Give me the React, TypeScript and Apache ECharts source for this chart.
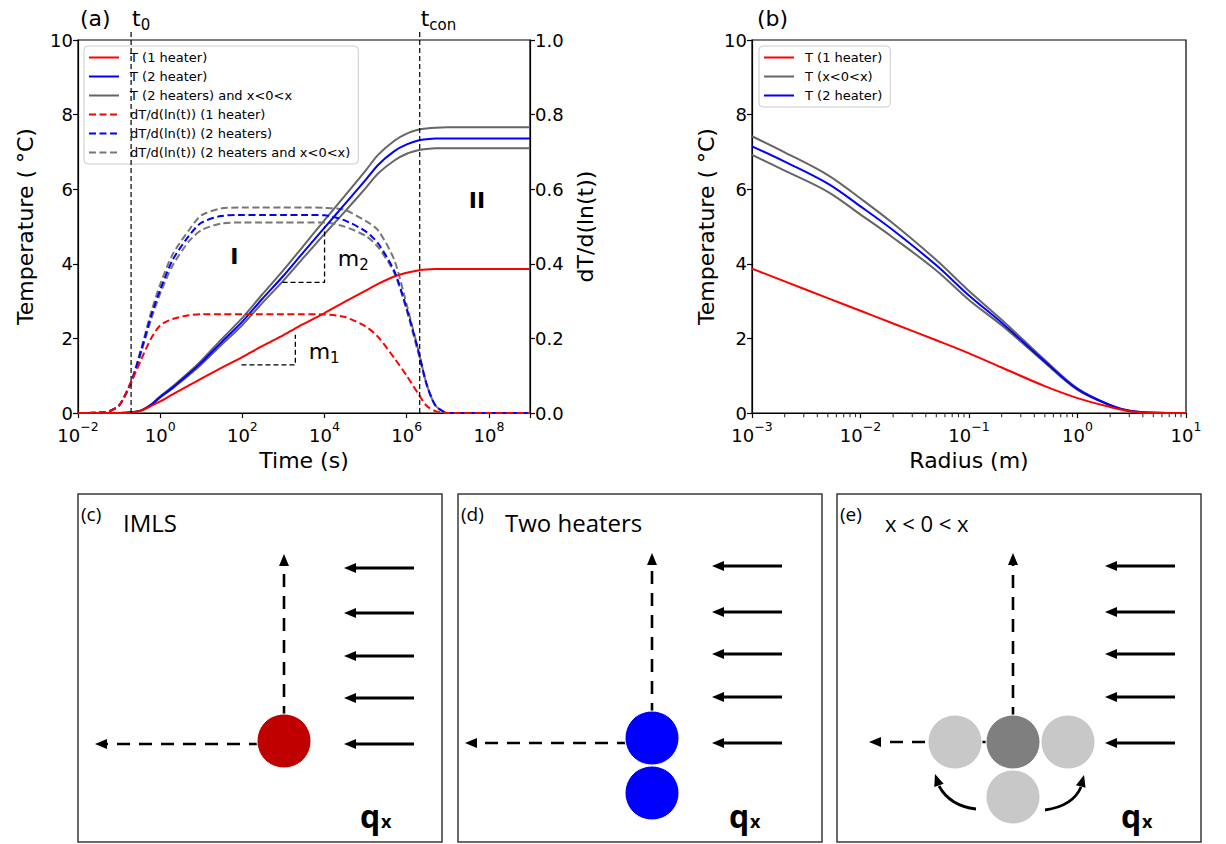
import React, { useEffect, useRef } from 'react';
import * as echarts from 'echarts';

const FONT = 'DejaVu Sans';
const BOX_FONT = 'Open Sans';

// ---------- Panel (a): temperature and derivative vs time ----------
const timeSeconds = [0.01, 0.05, 0.1, 0.2, 0.35, 0.6, 1, 2, 5, 10, 30, 100, 300, 1e3, 3e3, 1e4, 3e4, 1e5, 2e5, 5e5, 1e6, 2e6, 3e6, 5e6, 1e7, 1e8, 1e9];
const tempOneHeater = [0, 0, 0, 0.01, 0.07, 0.19, 0.31, 0.5, 0.74, 0.92, 1.2, 1.5, 1.79, 2.09, 2.38, 2.68, 2.97, 3.28, 3.46, 3.66, 3.76, 3.83, 3.85, 3.86, 3.86, 3.86, 3.86];
const tempTwoHeaters = [0, 0, 0, 0.02, 0.07, 0.22, 0.43, 0.68, 1.05, 1.35, 1.88, 2.45, 3.05, 3.68, 4.3, 4.97, 5.58, 6.25, 6.65, 7.02, 7.2, 7.31, 7.34, 7.36, 7.36, 7.36, 7.36];
const tempAdvUpper = [0, 0, 0, 0.02, 0.07, 0.23, 0.45, 0.71, 1.09, 1.4, 1.96, 2.55, 3.17, 3.83, 4.47, 5.17, 5.8, 6.5, 6.92, 7.3, 7.49, 7.6, 7.63, 7.65, 7.66, 7.66, 7.66];
const tempAdvLower = [0, 0, 0, 0.02, 0.07, 0.21, 0.41, 0.66, 1.01, 1.3, 1.81, 2.36, 2.94, 3.55, 4.15, 4.8, 5.38, 6.03, 6.42, 6.77, 6.95, 7.05, 7.08, 7.1, 7.1, 7.1, 7.1];
const derivOneHeater = [0, 0.003, 0.02, 0.085, 0.145, 0.2, 0.235, 0.252, 0.262, 0.265, 0.265, 0.265, 0.265, 0.265, 0.265, 0.264, 0.258, 0.232, 0.204, 0.147, 0.1, 0.048, 0.02, 0.005, 0, 0, 0];
const derivTwoHeaters = [0, 0.003, 0.02, 0.085, 0.17, 0.26, 0.33, 0.41, 0.475, 0.51, 0.528, 0.531, 0.531, 0.531, 0.531, 0.53, 0.517, 0.487, 0.455, 0.38, 0.28, 0.16, 0.08, 0.02, 0, 0, 0];
const derivAdvUpper = [0, 0.003, 0.02, 0.088, 0.175, 0.27, 0.345, 0.425, 0.49, 0.53, 0.548, 0.551, 0.551, 0.551, 0.551, 0.55, 0.545, 0.515, 0.49, 0.41, 0.29, 0.16, 0.08, 0.02, 0, 0, 0];
const derivAdvLower = [0, 0.003, 0.02, 0.082, 0.165, 0.25, 0.32, 0.395, 0.46, 0.49, 0.508, 0.511, 0.511, 0.511, 0.511, 0.511, 0.5, 0.475, 0.445, 0.375, 0.275, 0.152, 0.078, 0.02, 0, 0, 0];

// reference markers in panel (a)
const t0Time = [0.196, 0.196];
const tconTime = [2.07e6, 2.07e6];
const markerSpan = [0, 10.27];
const slopeM2Time = [950, 1e4, 1e4];
const slopeM2Temp = [3.5, 3.5, 5.0];
const slopeM1Time = [95, 1950, 1950];
const slopeM1Temp = [1.29, 1.29, 2.1];

// ---------- Panel (b): temperature vs radius ----------
const radiusM = [0.001, 0.002, 0.005, 0.01, 0.02, 0.05, 0.1, 0.2, 0.5, 1, 2, 3, 5, 10];
const radialOneHeater = [3.87, 3.53, 3.08, 2.74, 2.4, 1.95, 1.6, 1.22, 0.72, 0.4, 0.16, 0.05, 0.005, 0];
const radialTwoHeaters = [7.15, 6.74, 6.15, 5.54, 4.9, 3.96, 3.15, 2.42, 1.38, 0.64, 0.21, 0.06, 0.006, 0];
const radialAdvUpper = [7.42, 6.99, 6.38, 5.75, 5.08, 4.1, 3.27, 2.5, 1.42, 0.66, 0.21, 0.06, 0.006, 0];
const radialAdvLower = [6.92, 6.5, 5.93, 5.32, 4.7, 3.82, 3.03, 2.35, 1.35, 0.62, 0.21, 0.06, 0.006, 0];
const minorTickRadius = [0.002, 0.003, 0.004, 0.005, 0.006, 0.007, 0.008, 0.009, 0.02, 0.03, 0.04, 0.05, 0.06, 0.07, 0.08, 0.09, 0.2, 0.3, 0.4, 0.5, 0.6, 0.7, 0.8, 0.9, 2, 3, 4, 5, 6, 7, 8, 9];

const legendA = ['T (1 heater)', 'T (2 heater)', 'T (2 heaters) and x<0<x', 'dT/d(ln(t)) (1 heater)', 'dT/d(ln(t)) (2 heaters)', 'dT/d(ln(t)) (2 heaters and x<0<x)'];
const legendB = ['T (1 heater)', 'T (x<0<x)', 'T (2 heater)'];

const RED = '#ff0000';
const BLUE = '#0000ff';
const GRAY = '#656565';
const GRAY_D = '#777777';

export default function App() {
  const ref = useRef<HTMLDivElement>(null);

  useEffect(() => {
    const el = ref.current;
    if (!el) return;
    const chart = echarts.init(el, null, { renderer: 'svg' });

    const lt = (xs: number[], ys: number[]) => xs.map((t, i) => [Math.log10(t), ys[i]]);
    const lr = (xs: number[], ys: number[]) => xs.map((r, i) => [r, ys[i]]);

    const mk = (name: string, data: number[][], color: string, o: any = {}) => ({
      type: 'line',
      name,
      data,
      symbol: 'none',
      showSymbol: false,
      smooth: o.smooth === false ? false : o.smooth ?? 0.25,
      clip: o.clip === false ? false : true,
      lineStyle: { color, width: o.width ?? 2, type: o.dash ?? 'solid' },
      itemStyle: { color },
      xAxisIndex: o.x ?? 0,
      yAxisIndex: o.y ?? 0,
      z: o.z ?? 2,
      silent: true,
      emphasis: { disabled: true },
    });

    const supRich = {
      b: { fontSize: 18, fontFamily: FONT, color: '#000', lineHeight: 24, verticalAlign: 'bottom' },
      s: { fontSize: 12.5, fontFamily: FONT, color: '#000', lineHeight: 13, verticalAlign: 'top' },
    };
    const expLabel = (e: number) => `{b|10}{s|${e < 0 ? '\u2212' + -e : e}}`;

    const axisCommon = {
      axisLine: { show: true, onZero: false, lineStyle: { color: '#000', width: 1.2 } },
      axisTick: { show: true, inside: false, length: 5, lineStyle: { color: '#000', width: 1.2 } },
      splitLine: { show: false },
      nameTextStyle: { fontSize: 22, fontFamily: FONT, color: '#000' },
    };
    const labelCommon = { color: '#000', fontSize: 18, fontFamily: FONT };

    const dash = [7, 3.5];
    const blackDash = [5, 3];

    const legendCommon = {
      orient: 'vertical',
      itemWidth: 30,
      itemHeight: 14,
      itemGap: 6,
      padding: [5, 8, 5, 4],
      backgroundColor: 'rgba(255,255,255,0.85)',
      borderColor: '#cccccc',
      borderWidth: 1,
      borderRadius: 4,
      selectedMode: false,
      itemStyle: { opacity: 0 },
      formatter: (name: string) => `{t|${name}}`,
      textStyle: {
        fontSize: 13,
        fontFamily: FONT,
        color: '#000',
        rich: { t: { fontSize: 13, fontFamily: FONT, color: '#000', padding: [0, 0, 0, 6] } },
      },
    };

    const option: any = {
      animation: false,
      textStyle: { fontFamily: FONT },
      grid: [
        { left: 78, top: 40, width: 452, height: 373, show: true, borderColor: '#000', borderWidth: 1.2, backgroundColor: 'transparent' },
        { left: 752, top: 40, width: 434, height: 373, show: true, borderColor: '#000', borderWidth: 1.2, backgroundColor: 'transparent' },
      ],
      xAxis: [
        {
          ...axisCommon,
          gridIndex: 0,
          type: 'value',
          min: -2,
          max: 9,
          interval: 2,
          axisLabel: {
            ...labelCommon,
            margin: 7,
            formatter: (v: number) => {
              const e = Math.round(v);
              return e % 2 === 0 ? expLabel(e) : '';
            },
            rich: supRich,
          },
          name: 'Time (s)',
          nameLocation: 'middle',
          nameGap: 36,
        },
        {
          ...axisCommon,
          gridIndex: 1,
          type: 'log',
          logBase: 10,
          min: 0.001,
          max: 10,
          axisLabel: {
            ...labelCommon,
            margin: 7,
            formatter: (v: number) => expLabel(Math.round(Math.log10(v))),
            rich: supRich,
          },
          name: 'Radius (m)',
          nameLocation: 'middle',
          nameGap: 36,
        },
      ],
      yAxis: [
        {
          ...axisCommon,
          gridIndex: 0,
          type: 'value',
          min: 0,
          max: 10,
          interval: 2,
          axisLabel: { ...labelCommon, margin: 5 },
          name: 'Temperature ( \u00b0C)',
          nameLocation: 'middle',
          nameRotate: 90,
          nameGap: 42,
        },
        {
          ...axisCommon,
          gridIndex: 0,
          type: 'value',
          position: 'right',
          min: 0,
          max: 1,
          interval: 0.2,
          axisLabel: { ...labelCommon, margin: 5, formatter: (v: number) => v.toFixed(1) },
          name: 'dT/d(ln(t))',
          nameLocation: 'middle',
          nameRotate: 90,
          nameGap: 44,
        },
        {
          ...axisCommon,
          gridIndex: 1,
          type: 'value',
          min: 0,
          max: 10,
          interval: 2,
          axisLabel: { ...labelCommon, margin: 5 },
          name: 'Temperature ( \u00b0C)',
          nameLocation: 'middle',
          nameRotate: 90,
          nameGap: 35,
        },
      ],
      legend: [
        { ...legendCommon, left: 84, top: 46, data: legendA },
        { ...legendCommon, left: 759, top: 46, data: legendB },
      ],
      series: [
        // panel (a) temperatures
        mk('T (2 heaters) and x<0<x', lt(timeSeconds, tempAdvUpper), GRAY),
        mk('T (2 heaters) and x<0<x, lower', lt(timeSeconds, tempAdvLower), GRAY),
        mk('T (2 heater)', lt(timeSeconds, tempTwoHeaters), BLUE, { z: 3 }),
        mk('T (1 heater)', lt(timeSeconds, tempOneHeater), RED, { z: 3 }),
        // panel (a) derivatives
        mk('dT/d(ln(t)) (2 heaters and x<0<x)', lt(timeSeconds, derivAdvUpper), GRAY_D, { y: 1, dash }),
        mk('dT/d(ln(t)) (2 heaters and x<0<x), lower', lt(timeSeconds, derivAdvLower), GRAY_D, { y: 1, dash }),
        mk('dT/d(ln(t)) (2 heaters)', lt(timeSeconds, derivTwoHeaters), BLUE, { y: 1, dash, z: 3 }),
        mk('dT/d(ln(t)) (1 heater)', lt(timeSeconds, derivOneHeater), RED, { y: 1, dash, z: 3 }),
        // reference lines
        mk('t0 marker', lt(t0Time, markerSpan), '#000', { smooth: false, clip: false, width: 1.2, dash: blackDash, z: 4 }),
        mk('tcon marker', lt(tconTime, markerSpan), '#000', { smooth: false, clip: false, width: 1.2, dash: blackDash, z: 4 }),
        mk('m2 slope', lt(slopeM2Time, slopeM2Temp), '#000', { smooth: false, width: 1.3, dash: blackDash, z: 4 }),
        mk('m1 slope', lt(slopeM1Time, slopeM1Temp), '#000', { smooth: false, width: 1.3, dash: blackDash, z: 4 }),
        // panel (b)
        mk('T (x<0<x)', lr(radiusM, radialAdvUpper), GRAY, { x: 1, y: 2, smooth: 0.35 }),
        mk('T (x<0<x), lower', lr(radiusM, radialAdvLower), GRAY, { x: 1, y: 2, smooth: 0.35 }),
        mk('T (2 heater)', lr(radiusM, radialTwoHeaters), BLUE, { x: 1, y: 2, z: 3, smooth: 0.35 }),
        mk('T (1 heater)', lr(radiusM, radialOneHeater), RED, { x: 1, y: 2, z: 3, smooth: 0.35 }),
        {
          type: 'scatter',
          name: 'minor ticks',
          xAxisIndex: 1,
          yAxisIndex: 2,
          data: minorTickRadius.map((r) => [r, 0]),
          symbol: 'rect',
          symbolSize: [1.1, 3.5],
          symbolOffset: [0, 2.4],
          itemStyle: { color: '#000' },
          clip: false,
          silent: true,
          z: 10,
        },
      ],
    };

    chart.setOption(option);

    const px = (t: number, v: number) =>
      chart.convertToPixel({ xAxisIndex: 0, yAxisIndex: 0 } as any, [Math.log10(t), v]) as number[];

    const g: any[] = [];
    const text = (x: number, y: number, str: string, size: number, o: any = {}) => {
      g.push({
        type: 'text',
        x,
        y,
        z: 100,
        style: {
          text: str,
          fontSize: size,
          fontFamily: o.family ?? FONT,
          fontWeight: o.weight ?? 'normal',
          fill: o.color ?? '#000',
          align: o.align ?? 'left',
          verticalAlign: 'middle',
          textAlign: o.align ?? 'left',
          textVerticalAlign: 'middle',
          rich: o.rich,
        },
      });
    };
    const subRich = {
      m: { fontSize: 22, fontFamily: FONT, fill: '#000', color: '#000', lineHeight: 28 },
      s: { fontSize: 15, fontFamily: FONT, fill: '#000', color: '#000', lineHeight: 15, verticalAlign: 'bottom' },
    };

    // Panel (a)/(b) annotations
    text(80, 18, '(a)', 22);
    text(757, 18, '(b)', 22);
    const t0x = px(t0Time[0], 0)[0];
    const tcx = px(tconTime[0], 0)[0];
    text(t0x + 1, 18, '{m|t}{s|0}', 22, { rich: subRich });
    text(tcx + 1, 18, '{m|t}{s|con}', 22, { rich: subRich });
    const pI = px(64, 4.2);
    text(pI[0], pI[1], 'I', 22, { weight: 'bold', align: 'center' });
    const pII = px(5.1e7, 5.71);
    text(pII[0], pII[1], 'II', 22, { weight: 'bold', align: 'center' });
    const pM2 = px(2.1e4, 4.15);
    text(pM2[0], pM2[1], '{m|m}{s|2}', 22, { rich: subRich });
    const pM1 = px(4.1e3, 1.66);
    text(pM1[0], pM1[1], '{m|m}{s|1}', 22, { rich: subRich });

    // ---------- Schematic panels (c), (d), (e) ----------
    const BOX_TOP = 494;
    const BOX_W = 364;
    const BOX_H = 348;
    const box = (x: number) =>
      g.push({ type: 'rect', shape: { x, y: BOX_TOP, width: BOX_W, height: BOX_H }, style: { fill: 'none', stroke: '#3a3a3a', lineWidth: 1.5 } });
    const head = (tx: number, ty: number, dx: number, dy: number, len = 12, half = 5) => {
      const bx = tx - dx * len;
      const by = ty - dy * len;
      const nx = -dy;
      const ny = dx;
      g.push({
        type: 'polygon',
        shape: { points: [[tx, ty], [bx + nx * half, by + ny * half], [bx - nx * half, by - ny * half]] },
        style: { fill: '#000' },
      });
    };
    const arrow = (x1: number, y1: number, x2: number, y2: number, dashed: boolean) => {
      const L = Math.hypot(x2 - x1, y2 - y1);
      const dx = (x2 - x1) / L;
      const dy = (y2 - y1) / L;
      g.push({
        type: 'line',
        shape: { x1, y1, x2: x2 - dx * 9, y2: y2 - dy * 9 },
        style: { stroke: '#000', lineWidth: dashed ? 2.6 : 2.8, lineDash: dashed ? [13, 9] : null },
      });
      head(x2, y2, dx, dy);
    };
    const circle = (cx: number, cy: number, fill: string) =>
      g.push({ type: 'circle', shape: { cx, cy, r: 27 }, style: { fill, stroke: '#fff', lineWidth: 1 } });
    const flowArrows = (xTail: number, xTip: number, ys: number[]) => ys.forEach((y) => arrow(xTail, y, xTip, y, false));
    const qx = (x: number) => {
      text(x, 815, 'q', 32, { family: BOX_FONT, weight: 'bold' });
      text(x + 21, 821, 'x', 18, { family: BOX_FONT, weight: 'bold' });
    };

    // (c) IMLS
    box(78);
    text(81, 514, '(c)', 19, { family: BOX_FONT });
    text(123, 522, 'IMLS', 24, { family: BOX_FONT });
    arrow(284, 741, 284, 554, true);
    arrow(284, 744, 95, 744, true);
    circle(284, 741, '#c00000');
    flowArrows(414, 344, [568, 613, 656, 698, 744]);
    qx(360);

    // (d) Two heaters
    box(458);
    text(461, 514, '(d)', 19, { family: BOX_FONT });
    text(505, 522, 'Two heaters', 24, { family: BOX_FONT });
    arrow(652, 738, 652, 553, true);
    arrow(652, 743, 465, 743, true);
    circle(652, 738, '#0000ff');
    circle(652, 793, '#0000ff');
    flowArrows(782, 712, [566, 612, 654, 697, 743]);
    qx(729);

    // (e) x < 0 < x
    box(837);
    text(840, 514, '(e)', 19, { family: BOX_FONT });
    text(885, 523, 'x < 0 < x', 22, { family: BOX_FONT });
    arrow(1013, 742, 1013, 553, true);
    arrow(1013, 742, 869, 742, true);
    circle(955, 742, '#c8c8c8');
    circle(1013, 742, '#7f7f7f');
    circle(1068, 742, '#c8c8c8');
    circle(1013, 797, '#c8c8c8');
    g.push({ type: 'bezierCurve', shape: { x1: 976, y1: 809, x2: 939, y2: 786, cpx1: 950, cpy1: 806 }, style: { stroke: '#000', lineWidth: 2.8, fill: 'none' } });
    head(935, 774, -0.33, -0.94);
    g.push({ type: 'bezierCurve', shape: { x1: 1045, y1: 810, x2: 1081, y2: 787, cpx1: 1073, cpy1: 806 }, style: { stroke: '#000', lineWidth: 2.8, fill: 'none' } });
    head(1084, 775, 0.27, -0.96);
    flowArrows(1175, 1105, [566, 612, 654, 697, 743]);
    qx(1121);

    chart.setOption({ graphic: g });

    return () => {
      chart.dispose();
    };
  }, []);

  return <div ref={ref} style={{ position: 'absolute', left: 0, top: 0, width: 1226, height: 844 }} />;
}
